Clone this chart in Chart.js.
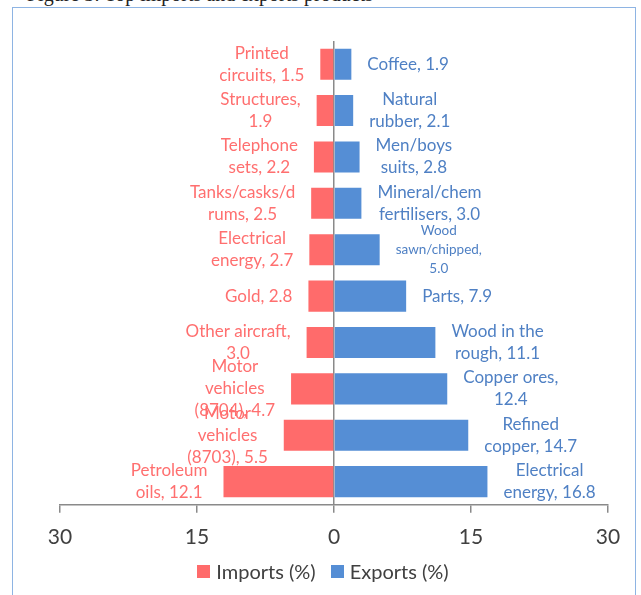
<!DOCTYPE html>
<html>
<head>
<meta charset="utf-8">
<script src="https://cdn.jsdelivr.net/npm/chart.js@4.4.1/dist/chart.umd.min.js"></script>
<style>
  html, body { margin: 0; padding: 0; background: #fff; overflow: hidden; }
  #wrap { position: relative; width: 641px; height: 595px; }
  #frame { position: absolute; left: 12px; top: 7px; width: 624px; height: 600px; border: 1.5px solid #8eb4e3; box-sizing: border-box; }
  #caption { position: absolute; left: 27px; top: -17px; font: 20px "Liberation Serif", serif; color: #222; white-space: nowrap; }
  canvas { position: absolute; left: 0; top: 0; }
  #legend { position: absolute; left: 0; width: 646px; top: 555px; text-align: center; font: 20px Lato, sans-serif; color: #404040; white-space: nowrap; }
  #legend span { display: inline-block; vertical-align: middle; }
  #legend .box { width: 13px; height: 13px; margin-right: 6px; }
  #legend .item + .item { margin-left: 15px; }
</style>
</head>
<body>
<div id="wrap">
  <div id="caption">Figure 3: Top imports and exports products</div>
  <div id="frame"></div>
  <canvas id="chart" width="641" height="595"></canvas>
  <div id="legend"></div>
</div>
<script>
// rows top to bottom
const importLabels = ['Printed\ncircuits, {v}', 'Structures,\n{v}', 'Telephone\nsets, {v}', 'Tanks/casks/d\nrums, {v}', 'Electrical\nenergy, {v}',
    'Gold, {v}', 'Other aircraft,\n{v}', 'Motor\nvehicles\n(8704), {v}', 'Motor\nvehicles\n(8703), {v}', 'Petroleum\noils, {v}'];
const importValues = [1.5, 1.9, 2.2, 2.5, 2.7, 2.8, 3.0, 4.7, 5.5, 12.1];

const exportLabels = ['Coffee, {v}', 'Natural\nrubber, {v}', 'Men/boys\nsuits, {v}', 'Mineral/chem\nfertilisers, {v}', 'Wood\nsawn/chipped,\n{v}',
    'Parts, {v}', 'Wood in the\nrough, {v}', 'Copper ores,\n{v}', 'Refined\ncopper, {v}', 'Electrical\nenergy, {v}'];
const exportValues = [1.9, 2.1, 2.8, 3.0, 5.0, 7.9, 11.1, 12.4, 14.7, 16.8];

const axisTicks = [-30, -15, 0, 15, 30];

const RED = '#ff6b6b';
const BLUE = '#558ed5';
const GRAY = '#8a8a8a';
const FONT = 'Lato';

// small label font for the crowded one
const smallLabels = ['Wood\nsawn/chipped,\n{v}'];

const barLabels = {
    id: 'barLabels',
    afterDatasetsDraw(chart) {
        const ctx = chart.ctx;
        const x = chart.scales.x;
        ctx.save();
        ctx.textAlign = 'center';
        ctx.textBaseline = 'middle';
        chart.data.datasets.forEach((ds, di) => {
            const meta = chart.getDatasetMeta(di);
            meta.data.forEach((bar, i) => {
                const tpl = ds.labelText[i];
                const raw = Math.abs(ds.data[i]);
                const lines = tpl.replace('{v}', raw.toFixed(1)).split('\n');
                const small = smallLabels.includes(tpl);
                const size = small ? 13.5 : 17;
                const lh = small ? 19 : 22;
                ctx.font = size + 'px ' + FONT;
                ctx.fillStyle = ds.labelColor;
                const w = Math.max(...lines.map(l => ctx.measureText(l).width));
                const end = x.getPixelForValue(ds.data[i]);
                const cx = ds.data[i] < 0 ? end - 16 - w / 2 : end + 16 + w / 2;
                const top = bar.y - (lines.length - 1) * lh / 2;
                lines.forEach((l, k) => ctx.fillText(l, cx, top + k * lh));
            });
        });
        ctx.restore();
    }
};

const chart = new Chart(document.getElementById('chart'), {
    type: 'bar',
    data: {
        labels: importLabels.map((_, i) => i),
        datasets: [{
            label: 'Imports (%)',
            data: importValues.map(v => -v),
            backgroundColor: RED,
            labelText: importLabels,
            labelColor: '#ff6f6f'
        }, {
            label: 'Exports (%)',
            data: exportValues,
            backgroundColor: BLUE,
            labelText: exportLabels,
            labelColor: '#4f80c4'
        }]
    },
    options: {
        indexAxis: 'y',
        responsive: false,
        animation: false,
        barPercentage: 0.67,
        categoryPercentage: 1,
        layout: { padding: { left: 60, right: 33, top: 41, bottom: 33 } },
        plugins: {
            legend: { display: false },
            tooltip: { enabled: false }
        },
        scales: {
            x: {
                stacked: true,
                min: -30,
                max: 30,
                afterBuildTicks: axis => { axis.ticks = axisTicks.map(v => ({ value: v })); },
                ticks: {
                    callback: v => Math.abs(v),
                    color: '#404040',
                    padding: 12,
                    font: { family: FONT, size: 21 }
                },
                grid: {
                    color: c => (c.tick && c.tick.value === 0) ? GRAY : 'rgba(0,0,0,0)',
                    lineWidth: 1.5,
                    tickColor: GRAY,
                    tickLength: 8
                },
                border: { display: true, color: GRAY, width: 1.5 }
            },
            y: {
                stacked: true,
                display: false
            }
        }
    },
    plugins: [barLabels]
});

// html legend built from the datasets
document.getElementById('legend').innerHTML = chart.data.datasets.map(ds =>
    '<span class="item"><span class="box" style="background:' + ds.backgroundColor + '"></span><span>' + ds.label + '</span></span>'
).join('');
</script>
</body>
</html>
